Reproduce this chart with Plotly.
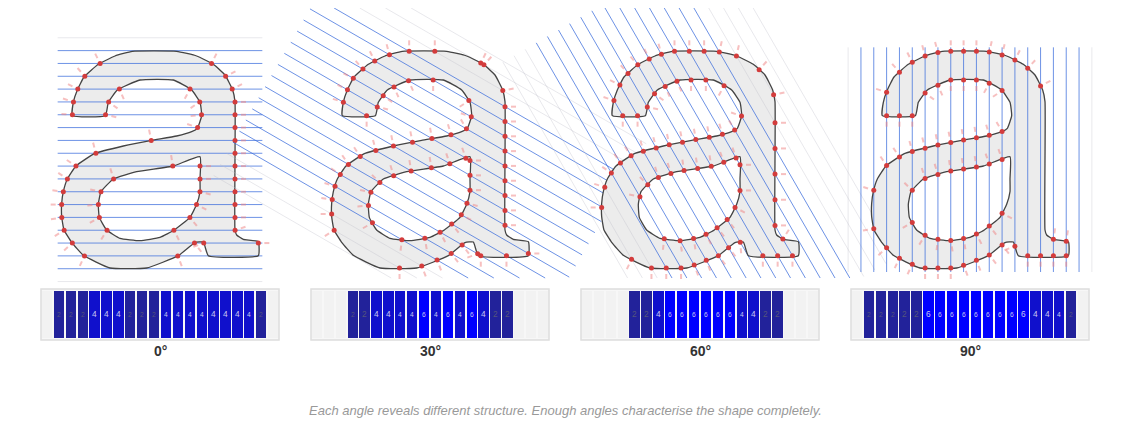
import numpy as np
import plotly.graph_objects as go

# glyph outline in glyph units (x right, y down)
outer_x = [97,100,112,132,175,225,277,410,470,520,555,578,585,585,590,610,655,655,505,490,465,415,320,210,130,95,72,65,65,70,82,108,163,250,335,410,455,472,485,480,455,400,300,232,205,196]
outer_y = [257,217,180,141,103,78,64,64,78,103,135,180,215,600,615,628,635,677,677,636,638,677,714,714,676,637,600,560,520,485,447,408,371,348,331,318,305,295,257,217,180,150,150,180,217,257]
inner_x = [480,480,480,470,450,403,360,300,240,200,178,175,183,220,290,400]
inner_y = [380,447,485,523,562,600,622,632,625,600,562,523,485,447,425,408]

angles = [0, 30, 60, 90]
labels = ["0°", "30°", "60°", "90°"]
counts = [
    [0,2,2,2,4,4,4,2,2,2,4,4,4,4,4,4,4,4,2,0],
    [0,0,0,2,2,4,4,4,4,6,4,6,4,6,4,2,2,0,0,0],
    [0,0,0,0,2,2,4,6,6,6,6,6,6,4,4,2,2,0,0,0],
    [0,2,2,2,2,2,6,6,6,6,6,6,6,6,6,4,4,4,2,0],
]
caption = "Each angle reveals different structure. Enough angles characterise the shape completely."

PANEL0, PANEL_STEP, SCALE = 40, 270, 1/3
STRIP_Y0, STRIP_Y1, STRIP_W = 289, 340, 238
PAGE_PAD = 8
Y_TOP, Y_BOT = 8, 278
color_map = {0: "#f2f2f2", 2: "#22229a", 4: "#1010cc", 6: "#0000ff"}

fig = go.Figure()
ox_u, oy_u = np.array(outer_x, float), np.array(outer_y, float)
ix_u, iy_u = np.array(inner_x, float), np.array(inner_y, float)
cx_u, cy_u = (ox_u.min()+ox_u.max())/2, (oy_u.min()+oy_u.max())/2

def intersections(px, py, p0, d):
    pts = []
    n = len(px)
    for i in range(n):
        a = np.array([px[i], py[i]]); b = np.array([px[(i+1) % n], py[(i+1) % n]])
        e = b - a
        M = np.array([[d[0], -e[0]], [d[1], -e[1]]])
        if abs(np.linalg.det(M)) < 1e-9:
            continue
        t, s = np.linalg.solve(M, a - p0)
        if 0 <= s < 1:
            nrm = np.array([e[1], -e[0]]); nrm /= np.linalg.norm(nrm)
            pts.append((p0 + t*d, nrm))
    return pts

def clip(a, b):
    ts = [0.0, 1.0]
    dy = b[1] - a[1]
    lo, hi = 0.0, 1.0
    if abs(dy) > 1e-9:
        t1, t2 = (Y_TOP - a[1]) / dy, (Y_BOT - a[1]) / dy
        lo, hi = max(0, min(t1, t2)), min(1, max(t1, t2))
    return a + lo*(b-a), a + hi*(b-a)

spl = dict(shape="spline", smoothing=0.4)
for k, ang in enumerate(angles):
    off = PANEL0 + k*PANEL_STEP
    ox, oy = off + ox_u*SCALE, 30 + oy_u*SCALE
    ix, iy = off + ix_u*SCALE, 30 + iy_u*SCALE
    cx, cy = off + cx_u*SCALE, 30 + cy_u*SCALE
    fig.add_trace(go.Scatter(x=list(ox)+[ox[0]], y=list(oy)+[oy[0]], fill="toself", fillcolor="#ececec",
                             mode="lines", line=dict(width=0, **spl), hoverinfo="skip"))
    fig.add_trace(go.Scatter(x=list(ix)+[ix[0]], y=list(iy)+[iy[0]], fill="toself", fillcolor="white",
                             mode="lines", line=dict(width=0, **spl), hoverinfo="skip"))
    th = np.radians(ang)
    d = np.array([np.cos(th), np.sin(th)]); nv = np.array([-np.sin(th), np.cos(th)])
    w, h = (ox.max()-ox.min())/2, (oy.max()-oy.min())/2
    L = w*abs(np.cos(th)) + h*abs(np.sin(th)) + (4 if ang in (0, 90) else 40)
    spacing = 12.83
    bx, by, gx, gy = [], [], [], []
    dots_x, dots_y, ax_, ay_ = [], [], [], []
    for j, c in enumerate(counts[k]):
        p0 = np.array([cx, cy]) + (j-9.5)*spacing*nv
        a, b = clip(p0 - L*d, p0 + L*d)
        if c:
            bx += [a[0], b[0], None]; by += [a[1], b[1], None]
        else:
            gx += [a[0], b[0], None]; gy += [a[1], b[1], None]
        for poly in ((ox, oy), (ix, iy)):
            for p, nrm in intersections(poly[0], poly[1], p0, d):
                dots_x.append(p[0]); dots_y.append(p[1])
                q1, q2 = p + 6*nrm, p + 11*nrm
                ax_ += [q1[0], q2[0], None]; ay_ += [q1[1], q2[1], None]
    fig.add_trace(go.Scatter(x=gx, y=gy, mode="lines", line=dict(color="rgba(190,190,200,0.35)", width=1), hoverinfo="skip"))
    fig.add_trace(go.Scatter(x=bx, y=by, mode="lines", line=dict(color="rgba(60,110,220,0.75)", width=1), hoverinfo="skip"))
    fig.add_trace(go.Scatter(x=ax_, y=ay_, mode="lines", line=dict(color="rgba(240,130,130,0.5)", width=2), hoverinfo="skip"))
    for px_, py_ in ((ox, oy), (ix, iy)):
        fig.add_trace(go.Scatter(x=list(px_)+[px_[0]], y=list(py_)+[py_[0]], mode="lines",
                                 line=dict(color="#444", width=1.3, **spl), hoverinfo="skip"))
    fig.add_trace(go.Scatter(x=dots_x, y=dots_y, mode="markers", marker=dict(color="#d33c3c", size=5), hoverinfo="skip"))

    # strip
    sx0 = off + 1
    fig.add_shape(type="rect", x0=sx0, x1=sx0+STRIP_W, y0=STRIP_Y0, y1=STRIP_Y1,
                  line=dict(color="#dddddd", width=1.5), fillcolor="#f7f7f7", layer="below")
    slot = STRIP_W/len(counts[k])
    xs = [sx0 + slot*(j+0.5) for j in range(len(counts[k]))]
    fig.add_trace(go.Bar(x=xs, y=[STRIP_Y1-STRIP_Y0-4]*len(xs), base=STRIP_Y0+2, width=slot-1.6,
                         marker=dict(color=[color_map[c] for c in counts[k]], line=dict(width=0)),
                         text=[str(c) if c else "" for c in counts[k]], textposition="inside",
                         insidetextanchor="middle", textangle=0,
                         textfont=dict(size=10, color=["#55557a" if c == 2 else "#c8c8f0" for c in counts[k]], family="Liberation Sans"),
                         hoverinfo="skip"))
    fig.add_annotation(x=sx0+STRIP_W/2, y=351, text=f"<b>{labels[k]}</b>", showarrow=False,
                       font=dict(size=14, color="#333", family="Liberation Sans"))

fig.add_annotation(x=565, y=410, text=f"<i>{caption}</i>", showarrow=False,
                   font=dict(size=13, color="#999", family="Liberation Sans"))
fig.update_layout(width=1130, height=430, margin=dict(l=0, r=0, t=0, b=0), showlegend=False,
                  plot_bgcolor="white", paper_bgcolor="white", bargap=0,
                  xaxis=dict(range=[PAGE_PAD, 1130+PAGE_PAD], visible=False, fixedrange=True),
                  yaxis=dict(range=[430+PAGE_PAD, PAGE_PAD], visible=False, fixedrange=True))
fig.write_html("out.html")
